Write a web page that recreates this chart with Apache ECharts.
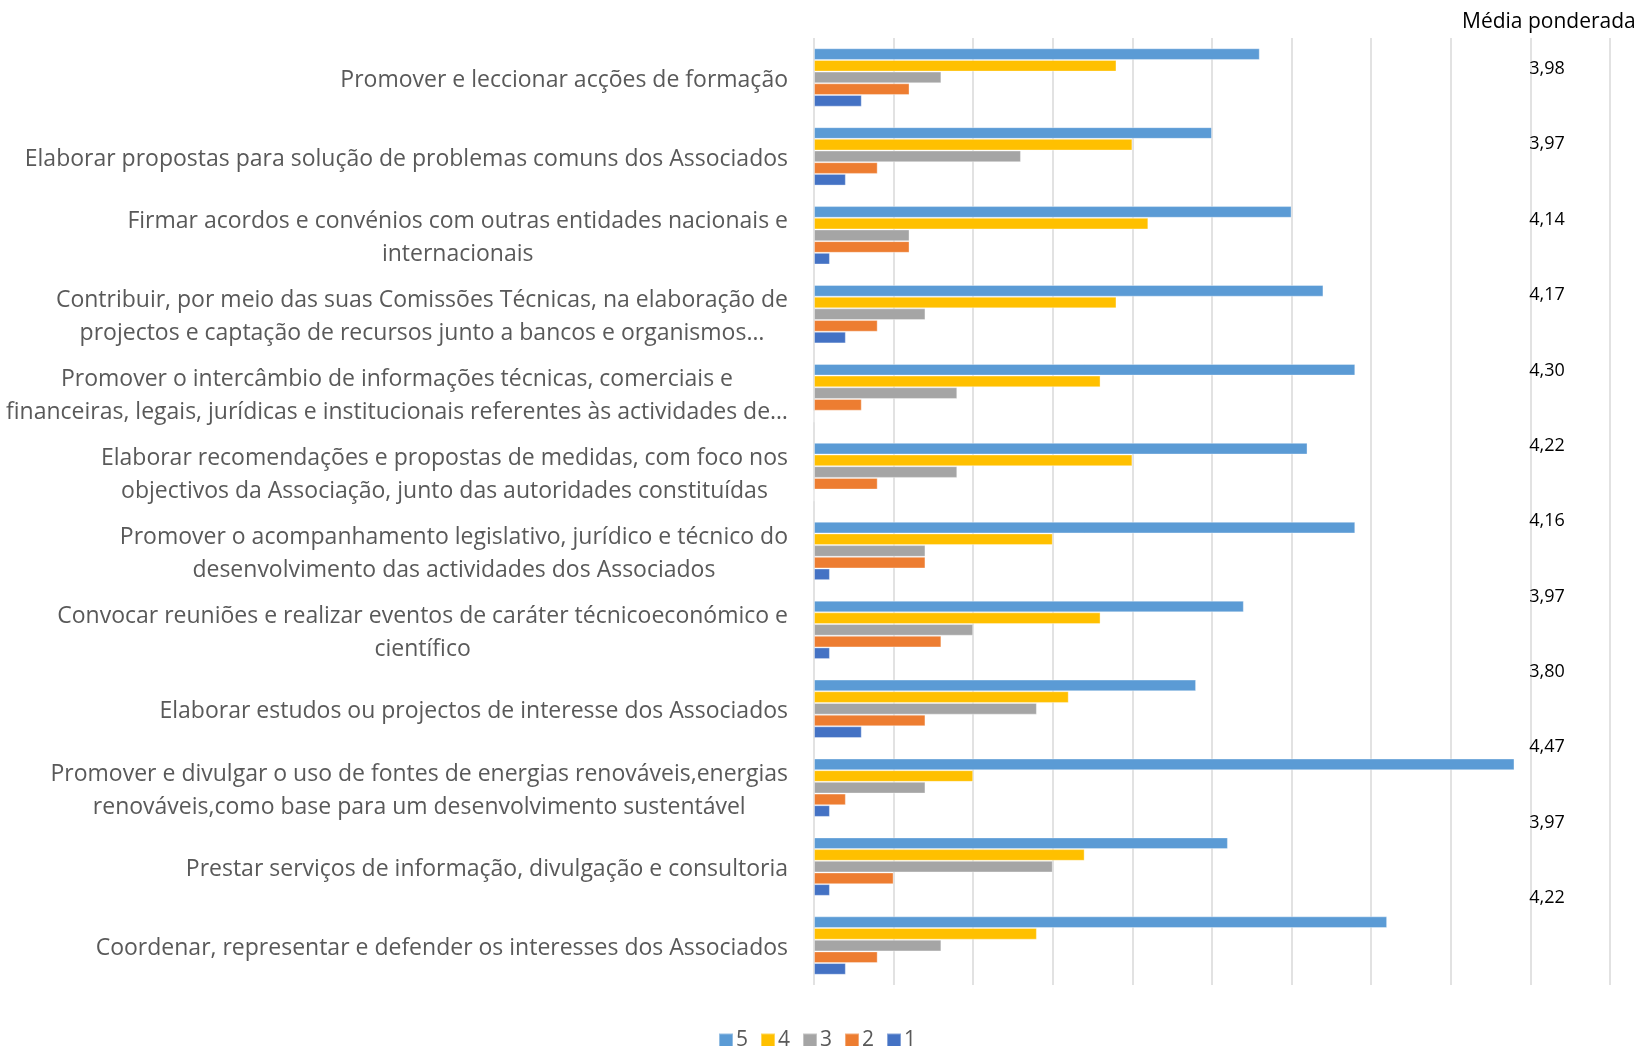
<!DOCTYPE html>
<html>
<head>
<meta charset="utf-8">
<title>Média ponderada</title>
<script src="https://cdn.jsdelivr.net/npm/echarts@6/dist/echarts.min.js"></script>
<style>
  html, body { margin: 0; padding: 0; background: #fff; }
  #main { width: 1634px; height: 1046px; }
</style>
</head>
<body>
<div id="main"></div>
<script>
// categorias (de cima para baixo)
const categorias = [
  "Promover e leccionar acções de formação",
  "Elaborar propostas para solução de problemas comuns dos Associados",
  "Firmar acordos e convénios com outras entidades nacionais e\ninternacionais",
  "Contribuir, por meio das suas Comissões Técnicas, na elaboração de\nprojectos e captação de recursos junto a bancos e organismos…",
  "Promover o intercâmbio de informações técnicas, comerciais e\nfinanceiras, legais, jurídicas e institucionais referentes às actividades de…",
  "Elaborar recomendações e propostas de medidas, com foco nos\nobjectivos da Associação, junto das autoridades constituídas",
  "Promover o acompanhamento legislativo, jurídico e técnico do\ndesenvolvimento das actividades dos Associados",
  "Convocar reuniões e realizar eventos de caráter técnicoeconómico e\ncientífico",
  "Elaborar estudos ou projectos de interesse dos Associados",
  "Promover e divulgar o uso de fontes de energias renováveis,energias\nrenováveis,como base para um desenvolvimento sustentável",
  "Prestar serviços de informação, divulgação e consultoria",
  "Coordenar, representar e defender os interesses dos Associados"
];

// número de respostas por nível
const nivel5 = [28, 25, 30, 32, 34, 31, 34, 27, 24, 44, 26, 36];
const nivel4 = [19, 20, 21, 19, 18, 20, 15, 18, 16, 10, 17, 14];
const nivel3 = [8, 13, 6, 7, 9, 9, 7, 10, 14, 7, 15, 8];
const nivel2 = [6, 4, 6, 4, 3, 4, 7, 8, 7, 2, 5, 4];
const nivel1 = [3, 2, 1, 2, 0, 0, 1, 1, 3, 1, 1, 2];

const mediaPonderada = ["3,98", "3,97", "4,14", "4,17", "4,30", "4,22", "4,16", "3,97", "3,80", "4,47", "3,97", "4,22"];

const niveis = ["5", "4", "3", "2", "1"];
const cores = ["#5B9BD5", "#FFC000", "#A5A5A5", "#ED7D31", "#4472C4"];
const valores = [nivel5, nivel4, nivel3, nivel2, nivel1];

const fonte = "'Open Sans', sans-serif";

let myChart = echarts.init(document.getElementById("main"));

myChart.setOption({
  animation: false,
  title: {
    text: "Média ponderada",
    left: 1457,
    top: 7,
    textStyle: { fontFamily: fonte, fontSize: 21, fontWeight: "normal", color: "#000" }
  },
  legend: {
    data: niveis,
    left: 713,
    top: 1025,
    itemWidth: 14,
    itemHeight: 14,
    itemGap: 12,
    icon: "rect",
    textStyle: { fontFamily: fonte, fontSize: 21, color: "#595959", padding: [0, 0, 0, -2] }
  },
  grid: [
    { left: 814, width: 796, top: 38, bottom: 61 },
    { left: 1547, width: 20, top: 69, height: 829 }
  ],
  xAxis: [
    {
      gridIndex: 0,
      type: "value",
      min: 0,
      max: 50,
      interval: 5,
      axisLabel: { show: false },
      axisLine: { show: false },
      axisTick: { show: false },
      splitLine: { lineStyle: { color: "#D9D9D9", width: 1.5 } }
    },
    { gridIndex: 1, type: "value", show: false }
  ],
  yAxis: [
    {
      gridIndex: 0,
      type: "category",
      inverse: true,
      data: categorias,
      axisLine: { show: false },
      axisTick: { show: false },
      axisLabel: {
        margin: 26,
        align: "right",
        padding: [6, 0, 0, 0],
        color: "#595959",
        // linhas centradas dentro do bloco, como no Excel
        formatter: (v) => v.split("\n").map((l) => "{c|" + l + "}").join("\n"),
        rich: {
          c: { align: "center", fontFamily: fonte, fontSize: 23, lineHeight: 33, color: "#595959" }
        }
      }
    },
    {
      gridIndex: 1,
      type: "category",
      inverse: true,
      boundaryGap: false,
      data: mediaPonderada,
      axisLine: { show: false },
      axisTick: { show: false },
      axisLabel: {
        margin: 0,
        align: "center",
        fontFamily: fonte,
        fontSize: 18,
        color: "#000"
      }
    }
  ],
  series: niveis.map((n, i) => ({
    name: n,
    type: "bar",
    xAxisIndex: 0,
    yAxisIndex: 0,
    data: valores[i],
    barGap: "0%",
    barCategoryGap: "26%",
    itemStyle: { color: cores[i], borderColor: "rgba(255,255,255,0.35)", borderWidth: 1 }
  }))
});
</script>
</body>
</html>
